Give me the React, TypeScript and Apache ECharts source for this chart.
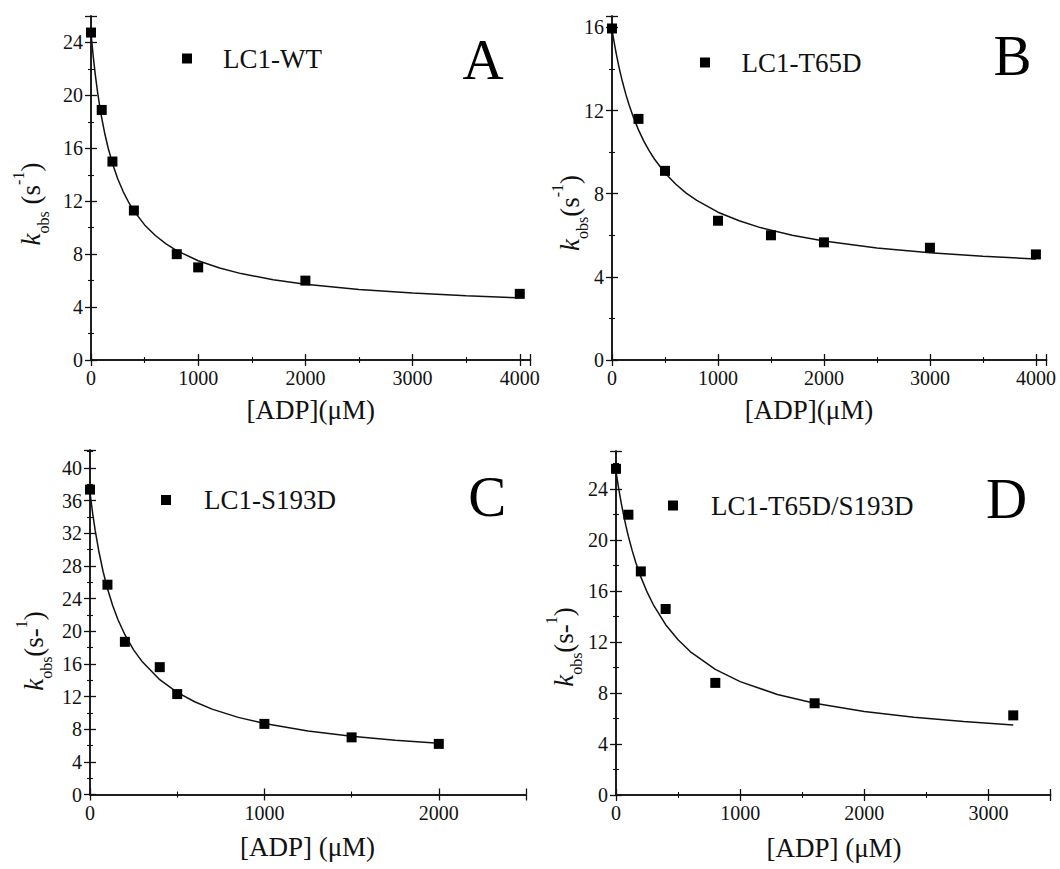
import React, { useEffect, useRef } from "react";
import * as echarts from "echarts";

const FONT = "Liberation Serif";
const INK = "#111";

// ---------- Panel A : LC1-WT ----------
const aName = "LC1-WT";
const aX = [0, 100, 200, 400, 800, 1000, 2000, 4000];
const aY = [24.75, 18.9, 15.0, 11.3, 8.0, 7.0, 6.0, 5.0];
const aFitX = [0, 20, 40, 60, 80, 100, 130, 160, 200, 250, 300, 350, 400, 500, 600, 700, 800, 1000, 1200, 1400, 1700, 2000, 2500, 3000, 3500, 4000];
const aFitY = [24.7, 23.01, 21.57, 20.32, 19.24, 18.29, 17.06, 16.02, 14.86, 13.68, 12.73, 11.94, 11.27, 10.21, 9.41, 8.78, 8.27, 7.5, 6.95, 6.53, 6.07, 5.73, 5.33, 5.06, 4.85, 4.7];

// ---------- Panel B : LC1-T65D ----------
const bName = "LC1-T65D";
const bX = [0, 250, 500, 1000, 1500, 2000, 3000, 4000];
const bY = [15.95, 11.6, 9.1, 6.7, 6.0, 5.66, 5.4, 5.08];
const bFitX = [0, 20, 40, 60, 80, 100, 130, 160, 200, 250, 300, 350, 400, 500, 600, 700, 800, 1000, 1200, 1400, 1700, 2000, 2500, 3000, 3500, 4000];
const bFitY = [15.9, 15.29, 14.74, 14.23, 13.78, 13.36, 12.79, 12.29, 11.7, 11.07, 10.53, 10.07, 9.67, 9.0, 8.47, 8.03, 7.68, 7.11, 6.7, 6.37, 6.0, 5.73, 5.39, 5.16, 4.99, 4.86];

// ---------- Panel C : LC1-S193D ----------
const cName = "LC1-S193D";
const cX = [0, 100, 200, 400, 500, 1000, 1500, 2000];
const cY = [37.35, 25.7, 18.7, 15.6, 12.3, 8.65, 7.0, 6.2];
const cFitX = [0, 15, 30, 50, 75, 100, 130, 160, 200, 250, 300, 400, 500, 600, 700, 850, 1000, 1250, 1500, 1750, 2000];
const cFitY = [37.0, 34.48, 32.32, 29.86, 27.32, 25.23, 23.15, 21.44, 19.57, 17.72, 16.25, 14.06, 12.51, 11.36, 10.46, 9.45, 8.69, 7.78, 7.13, 6.66, 6.29];

// ---------- Panel D : LC1-T65D/S193D ----------
const dName = "LC1-T65D/S193D";
const dX = [0, 100, 200, 400, 800, 1600, 3200];
const dY = [25.6, 22.0, 17.55, 14.6, 8.8, 7.2, 6.25];
const dFitX = [0, 20, 40, 60, 80, 100, 130, 160, 200, 250, 300, 400, 500, 600, 800, 1000, 1300, 1600, 2000, 2400, 2800, 3200];
const dFitY = [25.4, 24.15, 23.03, 22.02, 21.12, 20.29, 19.2, 18.23, 17.12, 15.94, 14.95, 13.37, 12.18, 11.24, 9.86, 8.9, 7.89, 7.2, 6.56, 6.1, 5.76, 5.5];

// axis ranges / tick steps
const xMaxes = [4100, 4100, 2500, 3500];
const yMaxes = [26, 16.55, 42.2, 27];
const xSteps = [1000, 1000, 1000, 1000];
const ySteps = [4, 4, 4, 4];
const panelLetters = ["A", "B", "C", "D"];
const xTitles = ["[ADP](\u03bcM)", "[ADP](\u03bcM)", "[ADP] (\u03bcM)", "[ADP] (\u03bcM)"];
const yTitles = [
  "{k|k}{sub|obs}{n| (s}{sup|-1}{n|)}",
  "{k|k}{sub|obs}{n|(s}{sup|-1}{n|)}",
  "{k|k}{sub|obs}{n|(s-}{sup|1}{n|)}",
  "{k|k}{sub|obs}{n|(s-}{sup|1}{n|)}",
];

// layout (pixels)
const grids = [
  { left: 91, top: 16, width: 439.5, height: 344 },
  { left: 612, top: 16, width: 434.5, height: 344 },
  { left: 90, top: 450, width: 436, height: 344.5 },
  { left: 616, top: 451, width: 434.5, height: 344 },
];
const xTitlePos = [[310.7, 410], [809, 410], [307.5, 847], [834, 848]];
const yTitlePos = [[31, 204], [569.7, 213], [33.6, 651], [563.8, 647]];
const letterPos = [[483, 59], [1012.6, 55], [487.3, 496], [1006.7, 498]];
const legendPos = [
  { left: 182, top: 45, pad: 26 },
  { left: 700, top: 49, pad: 26.5 },
  { left: 161, top: 486.5, pad: 28 },
  { left: 668, top: 492, pad: 28 },
];

const zip = (xs: number[], ys: number[]) => xs.map((x, i) => [x, ys[i]]);

const axisLine = () => ({ show: true, lineStyle: { color: INK, width: 1.5 } });
const axisTick = () => ({ show: true, inside: true, length: 6, lineStyle: { color: INK, width: 1.3 } });
const minorTick = () => ({ show: true, splitNumber: 2, length: 3, lineStyle: { color: INK, width: 1.1 } });
const axisLabel = (show: boolean) =>
  show
    ? {
        show: true,
        color: INK,
        fontFamily: FONT,
        fontSize: 20,
        margin: 8,
        showMaxLabel: false,
        formatter: (v: number) => String(v),
      }
    : { show: false };

function makeAxis(i: number, max: number, step: number, position: string, labels: boolean) {
  return {
    gridIndex: i,
    type: "value",
    min: 0,
    max,
    interval: step,
    position,
    splitLine: { show: false },
    axisLine: axisLine(),
    axisTick: axisTick(),
    minorTick: minorTick(),
    axisLabel: axisLabel(labels),
  };
}

function buildOption() {
  const names = [aName, bName, cName, dName];
  const scat = [zip(aX, aY), zip(bX, bY), zip(cX, cY), zip(dX, dY)];
  const fits = [zip(aFitX, aFitY), zip(bFitX, bFitY), zip(cFitX, cFitY), zip(dFitX, dFitY)];

  const xAxis: any[] = [];
  const yAxis: any[] = [];
  const series: any[] = [];
  const legend: any[] = [];
  const graphic: any[] = [];

  for (let i = 0; i < 4; i++) {
    xAxis.push(makeAxis(i, xMaxes[i], xSteps[i], "bottom", true));
    xAxis.push(makeAxis(i, xMaxes[i], xSteps[i], "top", false));
    yAxis.push(makeAxis(i, yMaxes[i], ySteps[i], "left", true));
    yAxis.push(makeAxis(i, yMaxes[i], ySteps[i], "right", false));

    series.push({
      name: names[i] + " fit",
      type: "line",
      xAxisIndex: 2 * i,
      yAxisIndex: 2 * i,
      data: fits[i],
      showSymbol: false,
      symbol: "none",
      smooth: false,
      lineStyle: { color: INK, width: 1.5 },
      z: 2,
      silent: true,
    });
    series.push({
      name: names[i],
      type: "scatter",
      xAxisIndex: 2 * i,
      yAxisIndex: 2 * i,
      data: scat[i],
      symbol: "rect",
      symbolSize: 10,
      clip: false,
      itemStyle: { color: "#000", opacity: 1 },
      z: 3,
    });

    legend.push({
      data: [{ name: names[i], icon: "rect" }],
      left: legendPos[i].left,
      top: legendPos[i].top,
      padding: 0,
      itemWidth: 10,
      itemHeight: 10,
      selectedMode: false,
      itemStyle: { opacity: 1, color: "#000" },
      textStyle: {
        fontFamily: FONT,
        fontSize: 27,
        color: INK,
        padding: [0, 0, 0, legendPos[i].pad],
      },
    });

    graphic.push({
      type: "text",
      x: letterPos[i][0],
      y: letterPos[i][1],
      style: {
        text: panelLetters[i],
        fontFamily: FONT,
        fontSize: 57,
        fill: "#000",
        align: "center",
        verticalAlign: "middle",
      },
    });
    graphic.push({
      type: "text",
      x: xTitlePos[i][0],
      y: xTitlePos[i][1],
      style: {
        text: xTitles[i],
        fontFamily: FONT,
        fontSize: 27,
        fill: INK,
        align: "center",
        verticalAlign: "middle",
      },
    });
    graphic.push({
      type: "text",
      x: yTitlePos[i][0],
      y: yTitlePos[i][1],
      rotation: Math.PI / 2,
      style: {
        text: yTitles[i],
        align: "center",
        verticalAlign: "middle",
        fill: INK,
        fontFamily: FONT,
        fontSize: 27,
        rich: {
          k: { fontFamily: FONT, fontStyle: "italic", fontSize: 27, lineHeight: 41, fill: INK },
          n: { fontFamily: FONT, fontSize: 27, lineHeight: 41, fill: INK },
          sub: { fontFamily: FONT, fontSize: 16, lineHeight: 16, verticalAlign: "bottom", fill: INK },
          sup: { fontFamily: FONT, fontSize: 16, lineHeight: 16, verticalAlign: "top", fill: INK },
        },
      },
    });
  }

  return {
    animation: false,
    backgroundColor: "#fff",
    textStyle: { fontFamily: FONT },
    grid: grids.map((g) => ({ ...g, containLabel: false })),
    xAxis,
    yAxis,
    legend,
    series,
    graphic,
  };
}

export default function App() {
  const ref = useRef<HTMLDivElement>(null);
  useEffect(() => {
    if (!ref.current) return;
    const chart = echarts.init(ref.current, null, { renderer: "svg" });
    chart.setOption(buildOption() as any);
    return () => chart.dispose();
  }, []);
  return (
    <div
      ref={ref}
      style={{ position: "fixed", left: 0, top: 0, width: 1060, height: 869, background: "#fff" }}
    />
  );
}
